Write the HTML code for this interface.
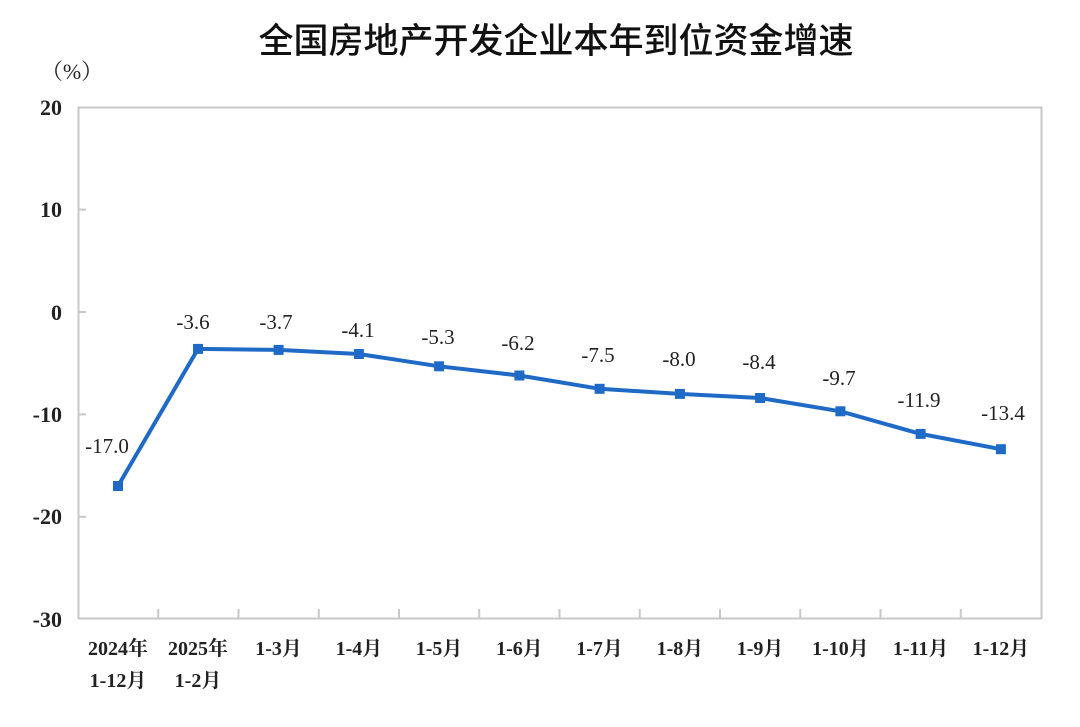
<!DOCTYPE html>
<html><head><meta charset="utf-8"><style>
html,body{margin:0;padding:0;background:#fff;}
svg{display:block;}
</style></head><body>
<svg width="1080" height="727" viewBox="0 0 1080 727" xmlns="http://www.w3.org/2000/svg">
<text x="556" y="53" text-anchor="middle" font-family="'Noto Sans CJK SC',sans-serif" font-size="35" font-weight="500" fill="#111">全国房地产开发企业本年到位资金增速</text>
<text x="72" y="79" text-anchor="middle" font-family="'Liberation Serif','Noto Serif CJK SC',serif" font-size="22" fill="#222">（%）</text>
<rect x="78.5" y="107.5" width="963" height="511" fill="none" stroke="#c8c8c8" stroke-width="2"/>
<g stroke="#c8c8c8" stroke-width="2">
<line x1="78" y1="209.6" x2="86" y2="209.6"/><line x1="78" y1="312" x2="86" y2="312"/><line x1="78" y1="414.4" x2="86" y2="414.4"/><line x1="78" y1="516.8" x2="86" y2="516.8"/>
<line x1="158.25" y1="619" x2="158.25" y2="609"/><line x1="238.5" y1="619" x2="238.5" y2="609"/><line x1="318.75" y1="619" x2="318.75" y2="609"/><line x1="399" y1="619" x2="399" y2="609"/><line x1="479.25" y1="619" x2="479.25" y2="609"/><line x1="559.5" y1="619" x2="559.5" y2="609"/><line x1="639.75" y1="619" x2="639.75" y2="609"/><line x1="720" y1="619" x2="720" y2="609"/><line x1="800.25" y1="619" x2="800.25" y2="609"/><line x1="880.5" y1="619" x2="880.5" y2="609"/><line x1="960.75" y1="619" x2="960.75" y2="609"/>
</g>
<g font-family="'Liberation Serif',serif" font-size="22" font-weight="bold" fill="#222" text-anchor="end">
<text x="62" y="115">20</text><text x="62" y="217">10</text><text x="62" y="320">0</text><text x="62" y="422">-10</text><text x="62" y="524">-20</text><text x="62" y="627">-30</text>
</g>
<g font-family="'Liberation Serif','Noto Serif CJK SC',serif" font-size="20" font-weight="bold" fill="#222" text-anchor="middle">
<text x="118" y="655">2024年</text><text x="118" y="687">1-12月</text>
<text x="198" y="655">2025年</text><text x="198" y="687">1-2月</text>
<text x="278.6" y="655">1-3月</text><text x="358.9" y="655">1-4月</text><text x="439.1" y="655">1-5月</text><text x="519.4" y="655">1-6月</text><text x="599.6" y="655">1-7月</text><text x="679.9" y="655">1-8月</text><text x="760.1" y="655">1-9月</text><text x="840.4" y="655">1-10月</text><text x="920.6" y="655">1-11月</text><text x="1000.9" y="655">1-12月</text>
</g>
<polyline fill="none" stroke="#1f6ac6" stroke-width="4" stroke-linejoin="round" points="118,486 198,348.9 278.6,349.9 358.9,354 439.1,366.3 519.4,375.5 599.6,388.8 679.9,393.9 760.1,398 840.4,411.3 920.6,433.9 1000.9,449.2"/>
<g fill="#1f6ac6">
<rect x="113" y="481" width="10" height="10"/><rect x="193" y="343.9" width="10" height="10"/><rect x="273.6" y="344.9" width="10" height="10"/><rect x="353.9" y="349" width="10" height="10"/><rect x="434.1" y="361.3" width="10" height="10"/><rect x="514.4" y="370.5" width="10" height="10"/><rect x="594.6" y="383.8" width="10" height="10"/><rect x="674.9" y="388.9" width="10" height="10"/><rect x="755.1" y="393" width="10" height="10"/><rect x="835.4" y="406.3" width="10" height="10"/><rect x="915.6" y="428.9" width="10" height="10"/><rect x="995.9" y="444.2" width="10" height="10"/>
</g>
<g font-family="'Liberation Serif',serif" font-size="21" fill="#222" text-anchor="middle">
<text x="107" y="453">-17.0</text><text x="193" y="329">-3.6</text><text x="276" y="329">-3.7</text><text x="358" y="337">-4.1</text><text x="438" y="344">-5.3</text><text x="518" y="350">-6.2</text><text x="598" y="362">-7.5</text><text x="679" y="366">-8.0</text><text x="759" y="369">-8.4</text><text x="839" y="385">-9.7</text><text x="919" y="407">-11.9</text><text x="1003" y="420">-13.4</text>
</g>
</svg>
</body></html>
